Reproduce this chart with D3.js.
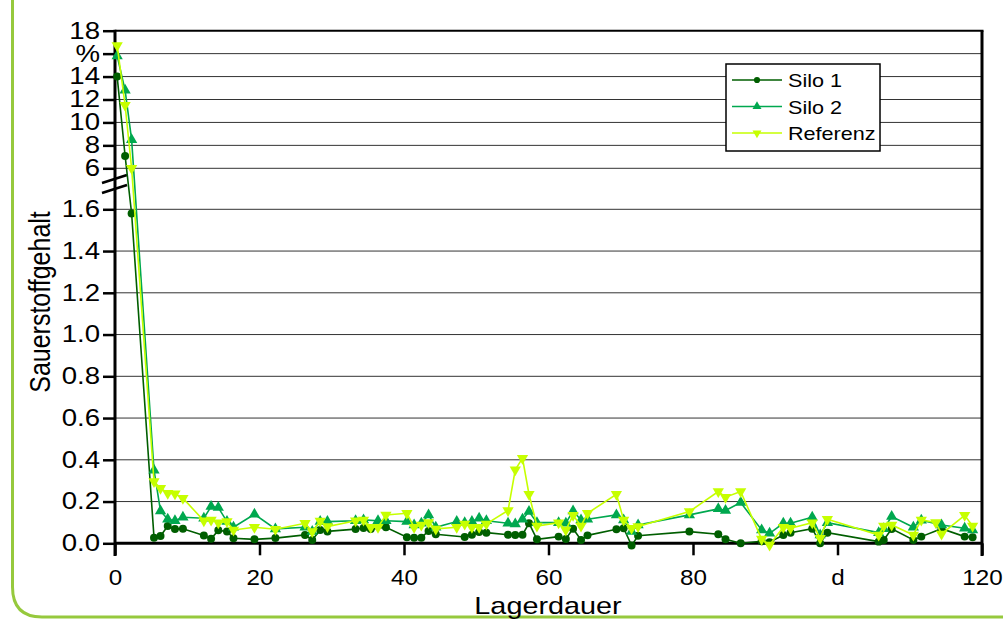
<!DOCTYPE html>
<html>
<head>
<meta charset="utf-8">
<script src="https://cdn.jsdelivr.net/npm/d3@7"></script>
<style>
  body { margin: 0; background: #fff; }
  svg text { font-family: "Liberation Sans", Arial, sans-serif; fill: #000; }
</style>
</head>
<body>
<div id="chart"></div>
<script>
(function () {
  // measurement days (Lagerdauer, d)
  const days = [0.3, 1.4, 2.3, 5.4, 6.3, 7.3, 8.3, 9.4, 12.3, 13.3, 14.3, 15.5, 16.4, 19.3,
    22.2, 26.3, 27.3, 28.4, 29.4, 33.3, 34.4, 35.4, 36.4, 37.5, 40.4, 41.4, 42.4, 43.4,
    44.4, 47.3, 48.4, 49.4, 50.4, 51.4, 54.4, 55.4, 56.4, 57.3, 58.4, 61.4, 62.4, 63.4,
    64.5, 65.4, 69.4, 70.4, 71.5, 72.4, 79.5, 83.5, 84.5, 86.6, 89.5, 90.6, 92.5, 93.5,
    96.5, 97.6, 98.6, 105.7, 106.4, 107.5, 110.5, 111.6, 113.6, 114.4, 117.6, 118.7];

  // oxygen content (%), null = no marker at that day
  const silo1 = [14.0, 7.07, 1.58, 0.027, 0.035, 0.083, 0.069, 0.07, 0.037, 0.022, 0.062, 0.057, 0.024, 0.019,
    0.025, 0.04, 0.016, 0.064, 0.057, 0.068, 0.073, 0.068, null, 0.077, 0.029, 0.027, 0.027, 0.059,
    0.043, null, 0.03, 0.041, 0.054, 0.051, 0.041, 0.04, 0.041, 0.096, 0.019, 0.032, 0.021, 0.07,
    0.016, 0.038, 0.067, 0.072, -0.01, 0.036, 0.056, 0.043, 0.019, 0.0, 0.01, 0.005, 0.04, 0.051,
    0.07, 0.0, 0.051, 0.008, 0.016, 0.069, 0.016, 0.032, null, 0.07, 0.032, 0.029];
  const silo2 = [15.8, 12.8, 8.5, 0.35, 0.155, 0.115, 0.108, 0.125, 0.12, 0.176, 0.171, 0.104, 0.077, 0.139,
    0.069, 0.077, 0.056, 0.104, 0.104, 0.108, 0.112, null, 0.108, 0.108, 0.104, 0.088, 0.096, 0.136,
    0.077, 0.104, 0.099, 0.104, 0.12, 0.108, 0.096, 0.093, 0.115, 0.152, 0.099, 0.099, 0.096, 0.155,
    0.112, 0.115, 0.136, 0.112, 0.056, 0.088, 0.136, 0.165, 0.157, 0.195, 0.064, 0.048, 0.096, 0.096,
    0.125, 0.04, 0.099, 0.051, 0.07, 0.128, 0.077, 0.11, null, 0.088, 0.072, 0.064];
  const referenz = [16.7, 11.5, 6.0, 0.296, 0.264, 0.24, 0.237, 0.216, 0.108, 0.112, 0.099, 0.104, 0.064, 0.077,
    0.067, 0.096, 0.056, 0.107, 0.08, 0.108, 0.112, 0.077, 0.077, 0.136, 0.144, 0.077, 0.088, 0.1,
    0.069, 0.077, 0.093, 0.077, 0.077, 0.093, 0.157, 0.352, 0.408, 0.235, 0.083, 0.099, 0.064, 0.134,
    0.083, 0.144, 0.235, 0.112, 0.072, 0.08, 0.152, 0.248, 0.221, 0.248, 0.02, -0.008, 0.077, 0.072,
    0.099, 0.024, 0.115, 0.04, 0.083, 0.088, 0.04, 0.112, 0.1, 0.045, 0.134, 0.083];

  const seriesNames = ["Silo 1", "Silo 2", "Referenz"];
  const seriesValues = [silo1, silo2, referenz];
  const seriesColors = ["#005e00", "#00a84f", "#c6ff00"];
  const seriesSymbols = ["circle", "up", "down"];

  const xTicks = [0, 20, 40, 60, 80, 100, 120];
  const xTickLabels = ["0", "20", "40", "60", "80", "d", "120"];
  const yTicksLow = [0, 0.2, 0.4, 0.6, 0.8, 1.0, 1.2, 1.4, 1.6];
  const yTicksHigh = [6, 8, 10, 12, 14, 16, 18];
  const yTickLabelsHigh = ["6", "8", "10", "12", "14", "%", "18"];

  const W = 1003, H = 619;
  const left = 115, right = 982, top = 30.7, bottom = 543.3;
  const SX = 1.2; // horizontal text stretch of the original

  const svg = d3.select("#chart").append("svg")
    .attr("width", W).attr("height", H)
    .attr("viewBox", `0 0 ${W} ${H}`);

  // green frame
  svg.append("path")
    .attr("d", `M12.5,0 V587 Q12.5,617 42,617 H${W}`)
    .attr("fill", "none")
    .attr("stroke", "#96c93d")
    .attr("stroke-width", 3);

  const x = d3.scaleLinear().domain([0, 120]).range([left, right]);
  // broken y axis: 0..1.6 below, 6..18 above
  const y = d3.scaleLinear()
    .domain([0, 1.6, 6, 18])
    .range([bottom, 209.3, 168.3, top]);

  // grid lines
  svg.append("g")
    .selectAll("line")
    .data(yTicksLow.slice(1).concat(yTicksHigh.slice(0, -1)))
    .join("line")
    .attr("x1", left).attr("x2", right)
    .attr("y1", (d) => y(d)).attr("y2", (d) => y(d))
    .attr("stroke", "#333")
    .attr("stroke-width", 1);

  // top & right frame of the plot
  svg.append("line")
    .attr("x1", left).attr("x2", right + 1.5)
    .attr("y1", top).attr("y2", top)
    .attr("stroke", "#000").attr("stroke-width", 2);
  svg.append("line")
    .attr("x1", right).attr("x2", right)
    .attr("y1", top).attr("y2", 556)
    .attr("stroke", "#000").attr("stroke-width", 3);

  // x axis
  const xAxis = svg.append("g")
    .attr("transform", `translate(0,${bottom})`)
    .call(d3.axisBottom(x).tickValues(xTicks)
      .tickFormat((d, i) => xTickLabels[i])
      .tickSize(12).tickPadding(14));
  xAxis.select(".domain").remove();
  xAxis.selectAll(".tick line").attr("stroke", "#000").attr("stroke-width", 2.5);
  xAxis.selectAll(".tick text")
    .attr("transform", "scale(1.1,1)")
    .style("font-size", "22px");

  // y axis (low + high share one scale)
  const yAxis = svg.append("g")
    .attr("transform", `translate(${left},0)`)
    .call(d3.axisLeft(y).tickValues(yTicksLow.concat(yTicksHigh))
      .tickFormat((d) => (d <= 1.6 ? d3.format(".1f")(d) : yTickLabelsHigh[yTicksHigh.indexOf(d)]))
      .tickSize(12).tickPadding(0.5));
  yAxis.select(".domain").remove();
  yAxis.selectAll(".tick line").attr("stroke", "#000").attr("stroke-width", 2.5);
  yAxis.selectAll(".tick text")
    .attr("transform", `scale(${SX},1)`)
    .style("font-size", "23px");

  // axis lines
  svg.append("line")
    .attr("x1", left).attr("x2", left)
    .attr("y1", top - 1).attr("y2", 556)
    .attr("stroke", "#000").attr("stroke-width", 3);
  svg.append("line")
    .attr("x1", left).attr("x2", right)
    .attr("y1", bottom).attr("y2", bottom)
    .attr("stroke", "#000").attr("stroke-width", 3);

  // axis break marks
  [0, 10].forEach((off) => {
    svg.append("line")
      .attr("x1", 102).attr("y1", 183 + off)
      .attr("x2", 127).attr("y2", 175 + off)
      .attr("stroke", "#000").attr("stroke-width", 2.5);
  });

  // axis titles
  svg.append("text")
    .attr("transform", `translate(548,614) scale(${SX},1)`)
    .attr("text-anchor", "middle")
    .style("font-size", "24px")
    .text("Lagerdauer");
  svg.append("text")
    .attr("transform", `translate(50,302) rotate(-90) scale(1,${SX})`)
    .attr("text-anchor", "middle")
    .style("font-size", "25px")
    .text("Sauerstoffgehalt");

  // series
  const line = d3.line()
    .x((d) => x(d[0]))
    .y((d) => y(d[1]));

  function symbolPath(kind) {
    if (kind === "circle") return d3.symbol(d3.symbolCircle, 50)();
    return d3.symbol(d3.symbolTriangle, 55)();
  }

  seriesValues.forEach((vals, i) => {
    const pts = days.map((d, j) => [d, vals[j]]).filter((p) => p[1] != null);
    const g = svg.append("g");
    g.append("path")
      .datum(pts)
      .attr("d", line)
      .attr("fill", "none")
      .attr("stroke", seriesColors[i])
      .attr("stroke-width", 1.6);
    g.selectAll("path.mark")
      .data(pts)
      .join("path")
      .attr("class", "mark")
      .attr("d", symbolPath(seriesSymbols[i]))
      .attr("transform", (d) =>
        `translate(${x(d[0])},${y(d[1])})` + (seriesSymbols[i] === "down" ? " rotate(180)" : ""))
      .attr("fill", seriesColors[i]);
  });

  // legend
  const legend = svg.append("g").attr("transform", "translate(726,64)");
  legend.append("rect")
    .attr("width", 154).attr("height", 87)
    .attr("fill", "#fff")
    .attr("stroke", "#000").attr("stroke-width", 1.5);
  seriesNames.forEach((name, i) => {
    const ly = 16 + i * 26.5;
    legend.append("line")
      .attr("x1", 6).attr("x2", 56)
      .attr("y1", ly).attr("y2", ly)
      .attr("stroke", seriesColors[i]).attr("stroke-width", 1.6);
    legend.append("path")
      .attr("d", seriesSymbols[i] === "circle" ? d3.symbol(d3.symbolCircle, 30)() : d3.symbol(d3.symbolTriangle, 35)())
      .attr("transform", `translate(31,${ly})` + (seriesSymbols[i] === "down" ? " rotate(180)" : ""))
      .attr("fill", seriesColors[i]);
    legend.append("text")
      .attr("transform", `translate(62,${ly + 7}) scale(${SX},1)`)
      .style("font-size", "18px")
      .text(name);
  });
})();
</script>
</body>
</html>
